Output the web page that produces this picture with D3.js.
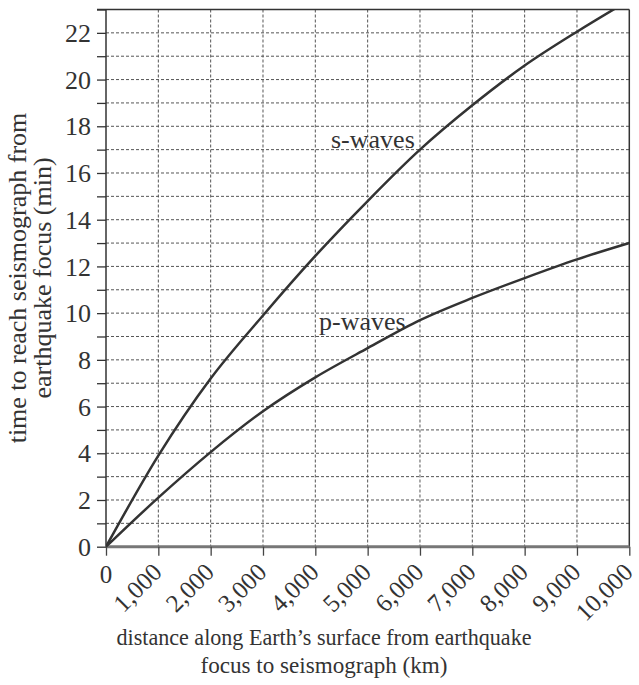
<!DOCTYPE html>
<html>
<head>
<meta charset="utf-8">
<script src="https://cdn.jsdelivr.net/npm/d3@7"></script>
<style>
  body { margin: 0; background: #fff; }
  text { font-family: "Liberation Serif", "DejaVu Serif", serif; fill: #333; }
</style>
</head>
<body>
<script>
// Data
const distance = [0, 1000, 2000, 3000, 4000, 5000, 6000, 7000, 8000, 9000, 10000];
const sWaves = [0, 3.9, 7.2, 9.9, 12.45, 14.8, 17.0, 18.9, 20.6, 22.05, 23.4];
const pWaves = [0, 2.1, 4.05, 5.8, 7.25, 8.5, 9.7, 10.65, 11.5, 12.3, 13.0];
const xTicks = [0, 1000, 2000, 3000, 4000, 5000, 6000, 7000, 8000, 9000, 10000];
const yTicks = [0, 2, 4, 6, 8, 10, 12, 14, 16, 18, 20, 22];

// Dimensions and margins
const margin = {top: 9.5, right: 9.7, bottom: 138.3, left: 106},
width  = 639 - margin.left - margin.right,
height = 685 - margin.top - margin.bottom;

const svg = d3.select("body").append("svg")
.attr("width", 639)
.attr("height", 685);

const g = svg.append("g")
.attr("transform", "translate(" + margin.left + "," + margin.top + ")");

const x = d3.scaleLinear().domain([0, 10000]).range([0, width]);
const y = d3.scaleLinear().domain([0, 23]).range([height, 0]);

// Dashed grid
g.append("g")
.selectAll("line")
.data(d3.range(1000, 10000, 1000))
.enter().append("line")
.attr("x1", d => x(d)).attr("x2", d => x(d))
.attr("y1", 0).attr("y2", height)
.style("stroke", "#555").style("stroke-width", 1).style("stroke-dasharray", "3,2");

g.append("g")
.selectAll("line")
.data(d3.range(1, 23))
.enter().append("line")
.attr("x1", 0).attr("x2", width)
.attr("y1", d => y(d)).attr("y2", d => y(d))
.style("stroke", "#555").style("stroke-width", 1).style("stroke-dasharray", "3,2");

// Top and right border
g.append("line")
.attr("x1", -9).attr("x2", width).attr("y1", 0).attr("y2", 0)
.style("stroke", "#333").style("stroke-width", 1.5);
g.append("line")
.attr("x1", width).attr("x2", width).attr("y1", 0).attr("y2", height)
.style("stroke", "#333").style("stroke-width", 1.5);

// Left axis
const yAxis = g.append("g")
.call(d3.axisLeft(y).tickValues(d3.range(0, 24)).tickSize(9).tickFormat(""));
yAxis.select(".domain").attr("d", "M0,0V" + height).style("stroke", "#333").style("stroke-width", 1.5);
yAxis.selectAll(".tick line").style("stroke", "#333").style("stroke-width", 1.3);

g.append("g")
.selectAll("text")
.data(yTicks)
.enter().append("text")
.attr("x", -15)
.attr("y", d => y(d))
.attr("dy", "0.35em")
.style("text-anchor", "end")
.style("font-size", "26px")
.text(d => d);

// Bottom axis
const xAxis = g.append("g")
.attr("transform", "translate(0," + height + ")")
.call(d3.axisBottom(x).tickValues(xTicks).tickSize(9).tickFormat(""));
xAxis.select(".domain").attr("d", "M0,0H" + width).style("stroke", "#777").style("stroke-width", 3);
xAxis.selectAll(".tick line").style("stroke", "#444").style("stroke-width", 1.3);

// "0" stays upright, the others are turned 45 degrees
g.append("g")
.selectAll("text")
.data(xTicks)
.enter().append("text")
.attr("transform", d => d === 0
  ? "translate(" + x(d) + "," + (height + 36) + ")"
  : "translate(" + (x(d) + 5) + "," + (height + 27) + ") rotate(-45)")
.style("text-anchor", d => d === 0 ? "middle" : "end")
.style("font-size", "25px")
.text(d => d3.format(",")(d));

// Curves
const line = d3.line()
.x((d, i) => x(distance[i]))
.y(d => y(d))
.curve(d3.curveMonotoneX);

g.append("clipPath").attr("id", "clip")
.append("rect").attr("width", width).attr("height", height);

[sWaves, pWaves].forEach(s => {
  g.append("path")
  .datum(s)
  .attr("clip-path", "url(#clip)")
  .attr("d", line)
  .style("fill", "none")
  .style("stroke", "#333")
  .style("stroke-width", 2.5);
});

// Curve labels
svg.append("text").attr("x", 331).attr("y", 148).style("font-size", "26px").text("s-waves");
svg.append("text").attr("x", 319).attr("y", 330).style("font-size", "26px").text("p-waves");

// Axis titles
svg.append("text")
.attr("transform", "translate(324,645)")
.attr("textLength", 415).attr("lengthAdjust", "spacingAndGlyphs")
.style("text-anchor", "middle").style("font-size", "24px")
.text("distance along Earth\u2019s surface from earthquake");
svg.append("text")
.attr("transform", "translate(324,673)")
.attr("textLength", 247).attr("lengthAdjust", "spacingAndGlyphs")
.style("text-anchor", "middle").style("font-size", "24px")
.text("focus to seismograph (km)");

svg.append("text")
.attr("transform", "translate(26,278) rotate(-90)")
.style("text-anchor", "middle").style("font-size", "26px")
.text("time to reach seismograph from");
svg.append("text")
.attr("transform", "translate(51,278) rotate(-90)")
.style("text-anchor", "middle").style("font-size", "26px")
.text("earthquake focus (min)");
</script>
</body>
</html>
